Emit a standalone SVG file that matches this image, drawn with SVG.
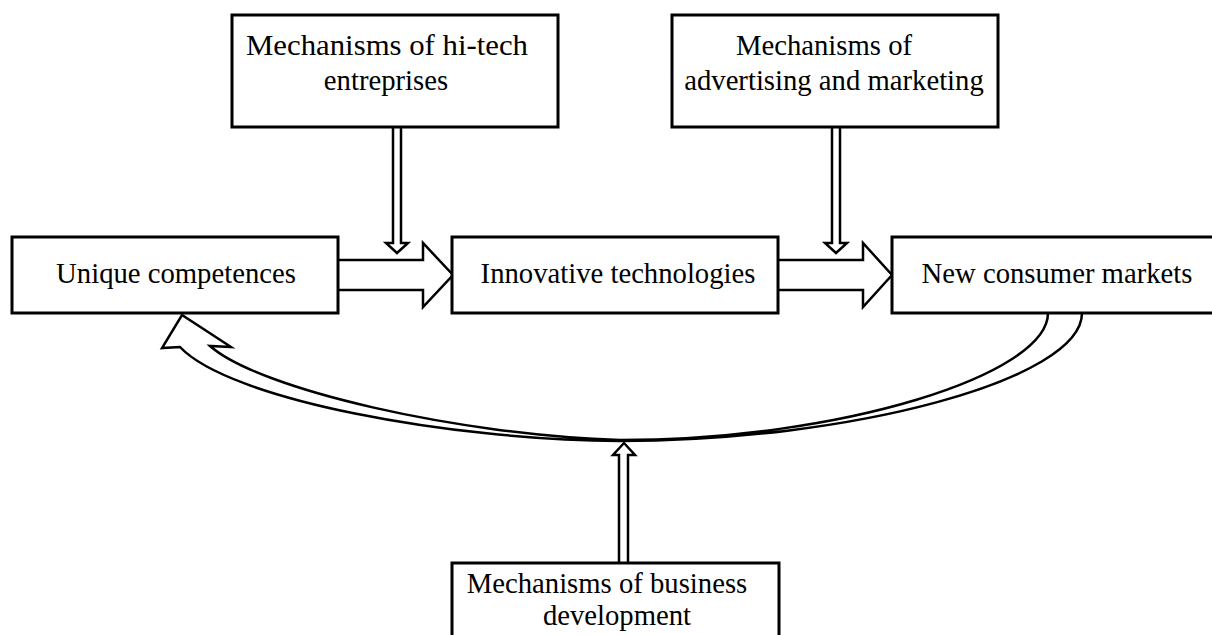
<svg xmlns="http://www.w3.org/2000/svg" width="1212" height="635" viewBox="0 0 1212 635">
<style>
.box{fill:#fff;stroke:#000;stroke-width:3}
.t{font-family:"Liberation Serif","Times New Roman",serif;font-size:28.7px;fill:#000;text-anchor:middle}
.c{fill:#fff;stroke:#000;stroke-width:2.5;stroke-linejoin:miter}
</style>
<rect width="1212" height="635" fill="#fff"/>
<g id="connectors">
<path class="c" d="M1082,313 C1082,380 850,441 620,441 C450,440 230,400 180,347 L162,348 L182,315 L231,347 L210,346 C260,390 460,435 620,440 C840,440 1048,375 1048,313"/>
<path class="c" d="M393,127 V243 H386 L397,253 L408,243 H401 V127"/>
<path class="c" d="M832,127 V243 H825 L836,253 L847,243 H840 V127"/>
<path class="c" d="M338,260 H423 V243 L453,275 L423,307 V290 H338"/>
<path class="c" d="M778,260 H863 V243 L892,275 L863,307 V290 H778"/>
<path class="c" d="M619,563 V455 H613 L624,443 L635,455 H628 V563"/>
</g>
<g id="n-hitech">
<rect class="box" x="232" y="15" width="326" height="112"/>
<text class="t" x="387" y="55" textLength="282" lengthAdjust="spacingAndGlyphs">Mechanisms of hi-tech</text>
<text class="t" x="386" y="90">entreprises</text>
</g>
<g id="n-advert">
<rect class="box" x="672" y="15" width="326" height="112"/>
<text class="t" x="824" y="55">Mechanisms of</text>
<text class="t" x="834" y="90">advertising and marketing</text>
</g>
<g id="n-unique">
<rect class="box" x="12" y="237" width="326" height="76"/>
<text class="t" x="176" y="283">Unique competences</text>
</g>
<g id="n-innov">
<rect class="box" x="452" y="237" width="326" height="76"/>
<text class="t" x="618" y="283">Innovative technologies</text>
</g>
<g id="n-markets">
<rect class="box" x="892" y="237" width="330" height="76"/>
<text class="t" x="1057" y="283">New consumer markets</text>
</g>
<g id="n-business">
<rect class="box" x="452" y="563" width="327" height="90"/>
<text class="t" x="607" y="593">Mechanisms of business</text>
<text class="t" x="617" y="625">development</text>
</g>
</svg>
